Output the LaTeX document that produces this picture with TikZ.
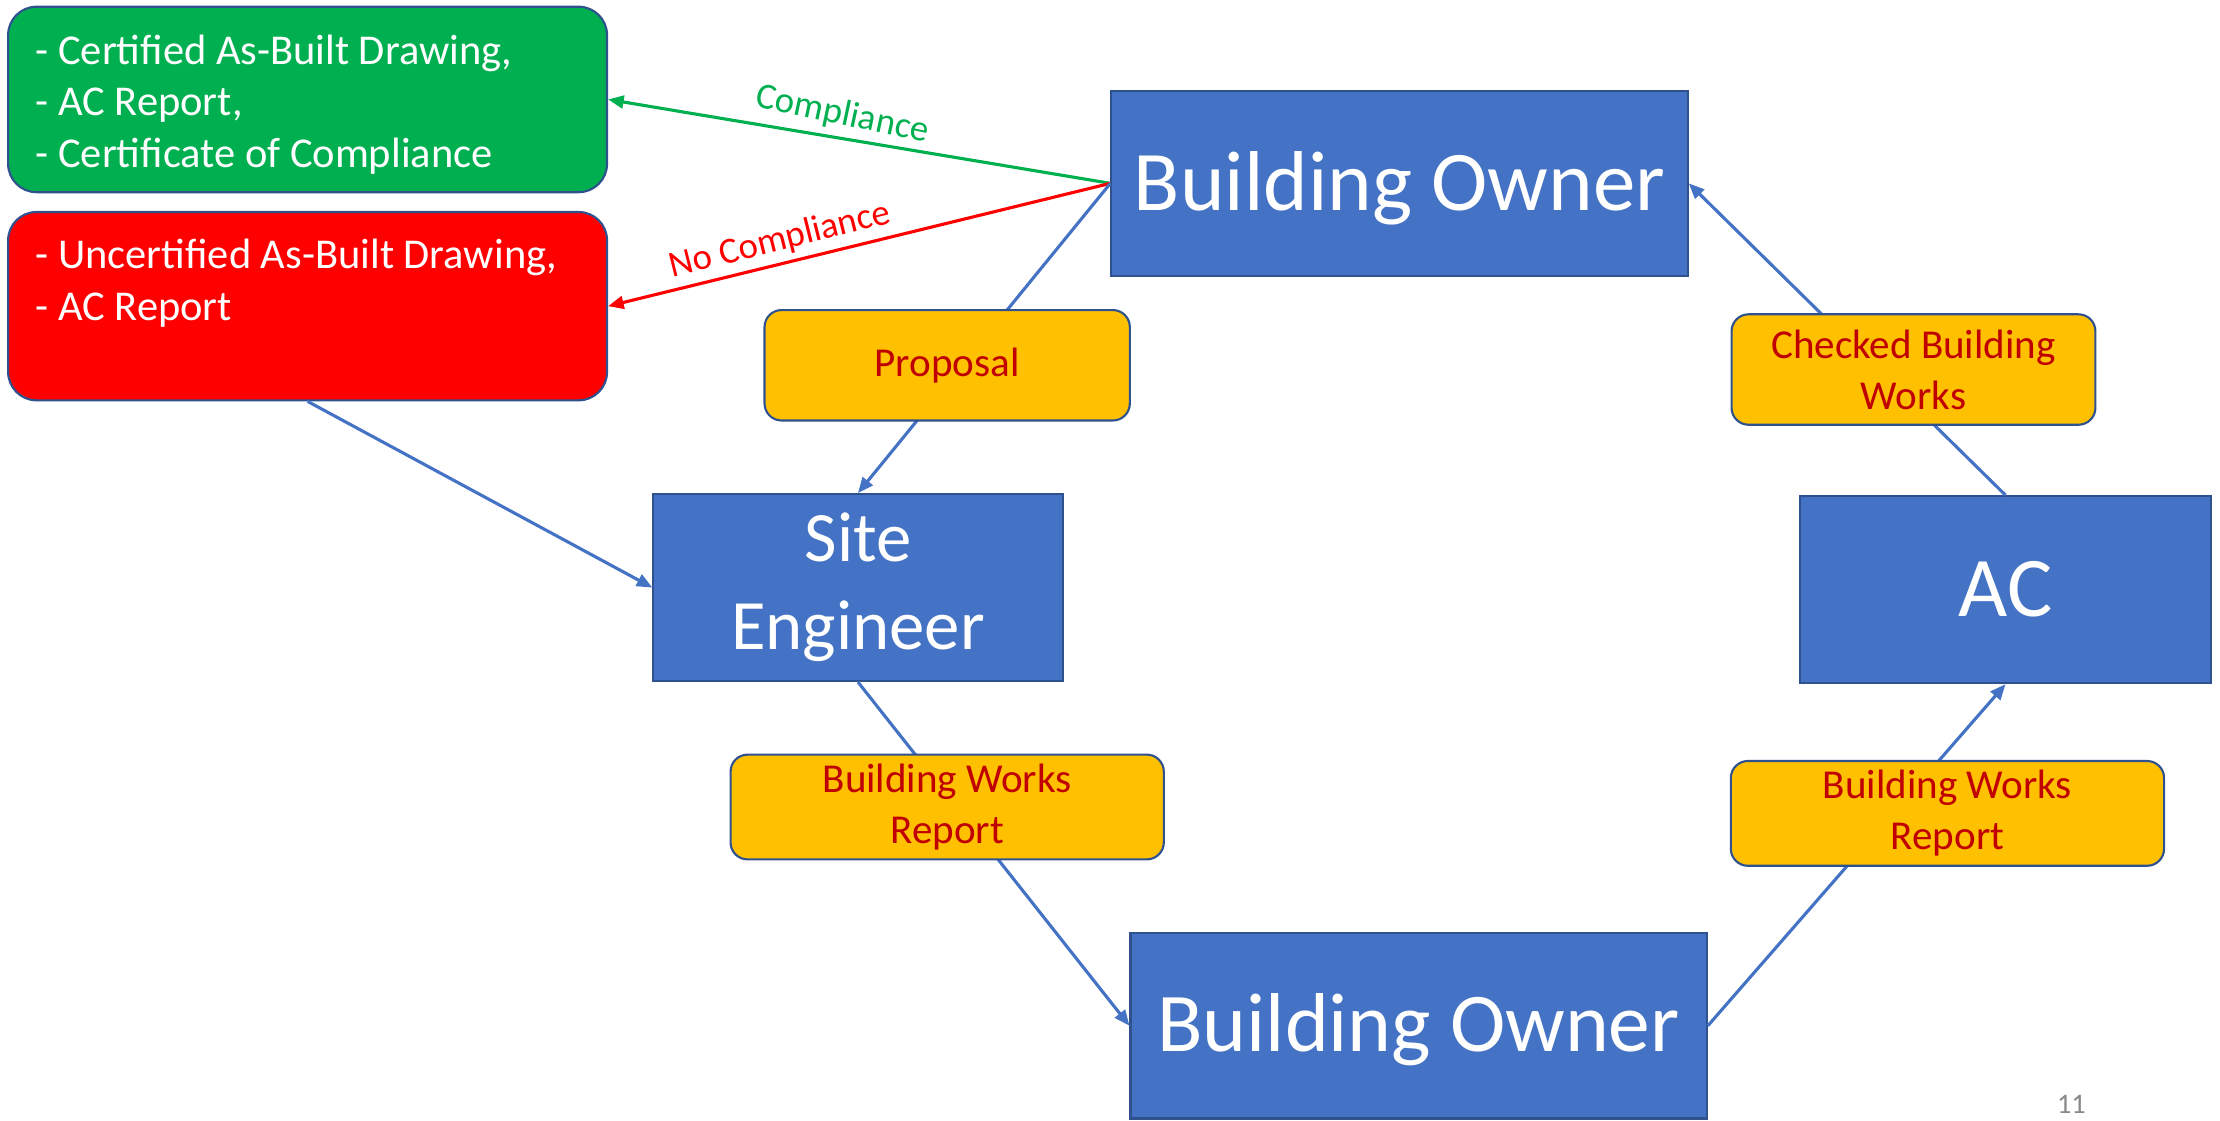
\documentclass[tikz,border=0pt]{standalone}
\usepackage{fontspec}
\setmainfont{Carlito}
\usetikzlibrary{arrows.meta}
\definecolor{boxblue}{HTML}{4472C4}
\definecolor{edgeblue}{HTML}{2F528F}
\definecolor{okgreen}{HTML}{00B050}
\definecolor{nored}{HTML}{FF0000}
\definecolor{labyellow}{HTML}{FFC000}
\definecolor{labred}{HTML}{C00000}
\definecolor{pagegray}{HTML}{898989}
\tikzset{
  mainbox/.style={draw=edgeblue, line width=1.5pt, fill=boxblue, text=white, inner sep=0pt, align=center},
  listbox/.style={draw=edgeblue, line width=1.5pt, rounded corners=20pt, inner sep=0pt},
  listtext/.style={text=white, anchor=base west, align=left, inner sep=0pt, font=\fontsize{30}{36.3}\selectfont},
  labbox/.style={draw=edgeblue, line width=1.5pt, fill=labyellow, rounded corners=12pt, text=labred, inner sep=0pt, align=center, font=\fontsize{29}{36}\selectfont},
  conn/.style={draw=boxblue, line width=2.2pt, -{Triangle[length=11pt,width=9pt]}},
  flowtext/.style={inner sep=0pt, font=\fontsize{26}{30}\selectfont}
}
\begin{document}
\begin{tikzpicture}[x=1pt,y=-1pt]
\useasboundingbox (0,0) rectangle (1568,791.1);
% list boxes
\node[listbox, fill=okgreen, minimum width=423pt, minimum height=131pt, anchor=north west] (green) at (5,4) {};
\node[listbox, fill=nored, minimum width=423pt, minimum height=133pt, anchor=north west] (red) at (5,149) {};
\node[listtext] (greentext) at (25,118) {- Certified As-Built Drawing,\\- AC Report,\\- Certificate of Compliance};
\node[listtext, font=\fontsize{30}{37}\selectfont] (redtext) at (25,226.7) {- Uncertified As-Built Drawing,\\- AC Report};
% main boxes
\node[mainbox, minimum width=407pt, minimum height=131pt, font=\fontsize{60}{70}\selectfont, text height=38pt, text depth=0pt] (botop) at (988.5,129.5) {Building Owner};
\node[mainbox, minimum width=289pt, minimum height=132pt, font=\fontsize{50}{62}\selectfont] (se) at (606,415) {Site\\Engineer};
\node[mainbox, minimum width=290pt, minimum height=132pt, font=\fontsize{60}{70}\selectfont, text height=38pt, text depth=0pt] (ac) at (1416.5,416.5) {AC};
\node[mainbox, minimum width=407pt, minimum height=131pt, font=\fontsize{59}{70}\selectfont, text height=37pt, text depth=0pt] (bobot) at (1002,724.5) {Building Owner};
% connectors
\draw[conn, draw=okgreen] (botop.west) -- (green.east);
\draw[conn, draw=nored] (botop.west) -- (red.east);
\draw[conn] (botop.west) -- (se.north);
\draw[conn] (red.south) -- (se.west);
\draw[conn] (se.south) -- (bobot.west);
\draw[conn] (bobot.east) -- (ac.south);
\draw[conn] (ac.north) -- (botop.east);
% flow labels
\node[flowtext, text=okgreen, rotate=-12] (comp) at (595,81) {Compliance};
\node[flowtext, text=nored, rotate=14] (nocomp) at (551,170) {No Compliance};
% label boxes
\node[labbox, minimum width=258pt, minimum height=78pt] (prop) at (669,258) {Proposal};
\node[labbox, minimum width=257pt, minimum height=78pt] (checked) at (1351.5,261) {Checked Building\\Works};
\node[labbox, minimum width=306pt, minimum height=74pt] (bwrl) at (669,570) {Building Works\\Report};
\node[labbox, minimum width=306pt, minimum height=74pt] (bwrr) at (1375.5,574.5) {Building Works\\Report};
% page number
\node[text=pagegray, inner sep=0pt, font=\fontsize{20}{24}\selectfont] (pagenum) at (1463,780) {11};
\end{tikzpicture}
\end{document}
